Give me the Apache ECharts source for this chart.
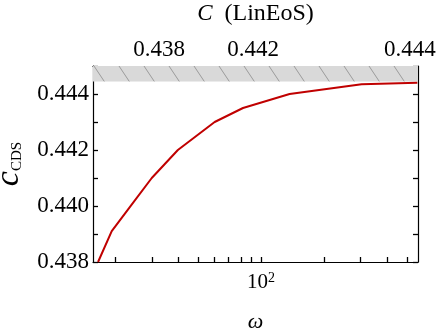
<!DOCTYPE html>
<html><head><meta charset="utf-8">
<script src="https://cdn.jsdelivr.net/npm/echarts@6/dist/echarts.min.js"></script>
<style>html,body{margin:0;padding:0;background:#fff}#c{width:437px;height:329px}</style>
</head><body><div id="c"></div><script>
// ---- data ----
const omega = [16.6, 19.3, 23.5, 30, 40, 60, 82, 137, 303, 560];
const cCDS  = [0.4380, 0.4391, 0.43995, 0.4410, 0.4420, 0.4430, 0.4435, 0.4440, 0.44435, 0.4444];
const bandLow = 0.44445;            // lower edge of hatched band
const bandHigh = 0.445;
const bottomTicks = [20, 30, 40, 50, 60, 70, 80, 90, 100, 200, 300, 400, 500];
const bottomLabels = [100];
const topTickOmega = [32.5, 91.6, 516];
const topTickLabels = ['0.438', '0.442', '0.444'];
const yLabelValues = ['0.438', '0.440', '0.442', '0.444'];

const FONT = 'Liberation Serif';
const xMin = 15.7, xMax = 564;
const yMin = 0.438, yMax = 0.445;

// hatch pattern
function hatch() {
  const W = 25, H = 75;
  const cv = document.createElement('canvas');
  cv.width = W; cv.height = H;
  const ctx = cv.getContext('2d');
  ctx.fillStyle = '#d9d9d9';
  ctx.fillRect(0, 0, W, H);
  ctx.strokeStyle = '#8c8c8c';
  ctx.lineWidth = 0.8;
  for (let k = -6; k <= 6; k++) {
    ctx.beginPath();
    ctx.moveTo(k * W, 0);
    ctx.lineTo(k * W + 50, H);
    ctx.stroke();
  }
  return cv;
}

const chart = echarts.init(document.getElementById('c'), null, {renderer: 'canvas'});
const axisLineStyle = {color: '#000', width: 1.2};
const tickStyle = {color: '#000', width: 1.3};

chart.setOption({
  animation: false,
  backgroundColor: '#fff',
  grid: {left: 93, right: 19, top: 66, bottom: 67, containLabel: false, outerBoundsMode: 'none'},
  xAxis: [
    {
      type: 'log', logBase: 10, min: xMin, max: xMax, position: 'bottom',
      axisLine: {show: true, lineStyle: axisLineStyle},
      axisTick: {show: true, inside: true, length: 5, customValues: bottomTicks, lineStyle: tickStyle},
      axisLabel: {
        show: true, customValues: bottomLabels, margin: 9,
        formatter: () => '{b|10}{s|2}',
        rich: {
          b: {fontFamily: FONT, fontSize: 21, color: '#000', lineHeight: 22},
          s: {fontFamily: FONT, fontSize: 14, color: '#000', verticalAlign: 'top', lineHeight: 14}
        }
      },
      splitLine: {show: false}, minorTick: {show: false},
      name: 'ω', nameLocation: 'middle', nameGap: 49,
      nameTextStyle: {fontFamily: FONT, fontStyle: 'italic', fontSize: 22, color: '#000'}
    },
    {
      type: 'log', logBase: 10, min: xMin, max: xMax, position: 'top',
      axisLine: {show: true, lineStyle: axisLineStyle},
      axisTick: {show: true, inside: true, length: 5, customValues: topTickOmega, lineStyle: tickStyle},
      axisLabel: {
        show: true, customValues: topTickOmega, margin: 5,
        fontFamily: FONT, fontSize: 23, color: '#000',
        formatter: (v) => {
          let best = 0, bd = Infinity;
          topTickOmega.forEach((w, i) => { const d = Math.abs(Math.log(w) - Math.log(v)); if (d < bd) { bd = d; best = i; } });
          return topTickLabels[best];
        }
      },
      splitLine: {show: false}, minorTick: {show: false},
      name: '{i|C}  (LinEoS)', nameLocation: 'middle', nameGap: 40,
      nameTextStyle: {
        fontFamily: FONT, fontSize: 24, color: '#000',
        rich: {i: {fontFamily: FONT, fontSize: 23, fontStyle: 'italic', color: '#000'}}
      }
    }
  ],
  yAxis: [
    {
      type: 'value', min: yMin, max: yMax, interval: 0.001, position: 'left',
      axisLine: {show: true, lineStyle: axisLineStyle},
      axisTick: {show: true, inside: true, length: 5, lineStyle: tickStyle},
      axisLabel: {
        show: true, margin: 4, fontFamily: FONT, fontSize: 23, color: '#000',
        formatter: (v) => { const s = v.toFixed(3); return yLabelValues.indexOf(s) >= 0 ? s : ''; }
      },
      splitLine: {show: false},
      name: '{c|c}{s|CDS}', nameLocation: 'middle', nameGap: 68, nameRotate: 90,
      nameTextStyle: {
        color: '#000',
        rich: {
          c: {fontFamily: FONT, fontStyle: 'italic', fontSize: 34, color: '#000', lineHeight: 30},
          s: {fontFamily: FONT, fontSize: 15, color: '#000', verticalAlign: 'bottom', lineHeight: 30, padding: [8, 0, 0, 0]}
        }
      }
    },
    {
      type: 'value', min: yMin, max: yMax, interval: 0.001, position: 'right',
      axisLine: {show: true, lineStyle: axisLineStyle},
      axisTick: {show: true, inside: true, length: 5, lineStyle: tickStyle},
      axisLabel: {show: false},
      splitLine: {show: false}
    }
  ],
  series: [
    {
      type: 'line', xAxisIndex: 0, yAxisIndex: 0,
      data: omega.map((w, i) => [w, cCDS[i]]),
      symbol: 'none', smooth: false, clip: true,
      lineStyle: {color: '#c00000', width: 2},
      z: 2,
      markArea: {
        silent: true,
        itemStyle: {color: {image: hatch(), repeat: 'repeat'}, borderWidth: 0},
        data: [[{yAxis: bandLow}, {yAxis: bandHigh}]]
      }
    }
  ]
});
</script></body></html>
